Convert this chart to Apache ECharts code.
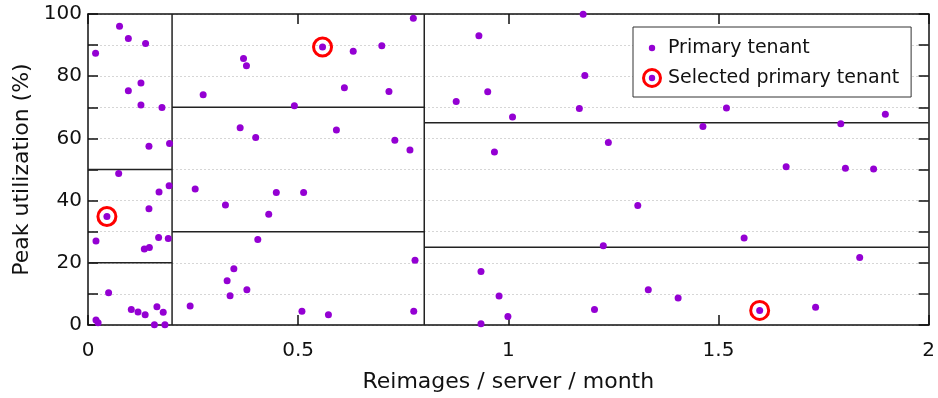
<!DOCTYPE html>
<html>
<head>
<meta charset="utf-8">
<script src="https://cdn.jsdelivr.net/npm/echarts@6/dist/echarts.min.js"></script>
<style>
html,body{margin:0;padding:0;background:#fff;}
#chart{width:938px;height:398px;}
</style>
</head>
<body>
<div id="chart"></div>
<script>
// ---- Data ----
const seriesNames = ['Primary tenant', 'Selected primary tenant'];
const xTicks = [0, 0.5, 1, 1.5, 2];
const yTicks = [0, 20, 40, 60, 80, 100];

// Primary tenants, x = reimages/server/month, y = peak utilization (%)
const primaryLowReimage = [
  [0.075,96.1],[0.096,92.1],[0.137,90.5],[0.018,87.4],[0.126,77.8],[0.096,75.3],[0.126,70.7],[0.176,69.9],
  [0.145,57.5],[0.194,58.4],[0.073,48.7],[0.169,42.8],[0.193,44.8],[0.045,34.9],[0.145,37.4],[0.019,27.0],
  [0.168,28.1],[0.191,27.8],[0.134,24.4],[0.146,24.9],[0.049,10.4],[0.103,5.0],[0.119,4.2],[0.136,3.3],
  [0.164,5.9],[0.179,4.1],[0.019,1.6],[0.024,0.7],[0.158,0.1],[0.183,0.1]
];
const primaryMidReimage = [
  [0.774,98.6],[0.558,89.4],[0.631,88.0],[0.699,89.8],[0.370,85.7],[0.377,83.4],[0.274,74.0],[0.610,76.3],
  [0.716,75.1],[0.491,70.5],[0.362,63.4],[0.399,60.3],[0.591,62.7],[0.730,59.4],[0.766,56.3],[0.255,43.7],
  [0.448,42.6],[0.513,42.6],[0.327,38.6],[0.430,35.6],[0.404,27.5],[0.778,20.8],[0.347,18.1],[0.331,14.2],
  [0.378,11.3],[0.338,9.4],[0.243,6.1],[0.509,4.4],[0.572,3.3],[0.775,4.4]
];
const primaryHighReimage = [
  [0.930,93.0],[1.178,99.9],[1.182,80.2],[0.951,75.0],[0.876,71.9],[1.169,69.6],[1.010,66.9],[1.238,58.7],
  [0.967,55.6],[1.519,69.8],[1.463,63.8],[1.791,64.7],[1.897,67.8],[1.661,50.9],[1.802,50.4],[1.869,50.2],
  [1.308,38.4],[1.226,25.5],[0.935,17.2],[1.333,11.3],[0.978,9.3],[1.205,5.0],[0.999,2.7],[0.935,0.4],
  [1.561,28.0],[1.836,21.7],[1.404,8.7],[1.598,4.7],[1.731,5.7]
];
const selectedTenants = [[0.045,34.9],[0.558,89.4],[1.598,4.7]];

// Partition boundaries: vertical splits on reimage rate, horizontal splits on utilization
const verticalSplits = [0.2, 0.8];
const horizontalSplits = [
  {from: 0,   to: 0.2, y: 20},
  {from: 0,   to: 0.2, y: 50},
  {from: 0.2, to: 0.8, y: 30},
  {from: 0.2, to: 0.8, y: 70},
  {from: 0.8, to: 2,   y: 25},
  {from: 0.8, to: 2,   y: 65}
];

// ---- Styling ----
const PURPLE = '#9400D3';
const RED = '#FF0000';
const FONT = 'DejaVu Sans';

function svgIcon(withRing) {
  let s = "<svg xmlns='http://www.w3.org/2000/svg' width='22' height='22' viewBox='0 0 22 22'>";
  if (withRing) s += "<circle cx='11' cy='11' r='8.5' fill='none' stroke='" + RED + "' stroke-width='3'/>";
  s += "<circle cx='11' cy='11' r='3.2' fill='" + PURPLE + "'/></svg>";
  return 'image://data:image/svg+xml;charset=utf-8,' + encodeURIComponent(s);
}

const primaryAll = primaryLowReimage.concat(primaryMidReimage, primaryHighReimage);

const lineSeries = [];
verticalSplits.forEach(function (x) {
  lineSeries.push({type: 'line', data: [[x, 0], [x, 100]], symbol: 'none', silent: true, z: 1,
    lineStyle: {color: '#222', width: 1.5}, animation: false});
});
horizontalSplits.forEach(function (h) {
  lineSeries.push({type: 'line', data: [[h.from, h.y], [h.to, h.y]], symbol: 'none', silent: true, z: 1,
    lineStyle: {color: '#222', width: 1.5}, animation: false});
});

function axisLine() { return {show: true, onZero: false, lineStyle: {color: '#111', width: 1.5}}; }
function axisTick() { return {show: true, inside: true, length: 10, lineStyle: {color: '#111', width: 1.5}}; }

const chart = echarts.init(document.getElementById('chart'));
chart.setOption({
  animation: false,
  backgroundColor: '#fff',
  textStyle: {fontFamily: FONT},
  grid: {left: 88, right: 9, top: 14, bottom: 73},
  legend: {
    orient: 'vertical',
    left: 633, top: 27,
    padding: [10, 12, 8, 8],
    itemWidth: 22, itemHeight: 22, itemGap: 8,
    borderColor: '#333', borderWidth: 1, backgroundColor: '#fff',
    textStyle: {fontFamily: FONT, fontSize: 19, color: '#111'},
    data: [
      {name: seriesNames[0], icon: svgIcon(false)},
      {name: seriesNames[1], icon: svgIcon(true)}
    ]
  },
  xAxis: [{
    type: 'value', min: xTicks[0], max: xTicks[xTicks.length - 1], interval: 0.5,
    name: 'Reimages / server / month', nameLocation: 'middle', nameGap: 46,
    nameTextStyle: {fontFamily: FONT, fontSize: 22, color: '#111'},
    axisLine: axisLine(), axisTick: axisTick(),
    axisLabel: {fontFamily: FONT, fontSize: 20, color: '#111', margin: 16,
      formatter: function (v) { return String(v); }},
    splitLine: {show: false}
  }, {
    type: 'value', position: 'top', min: xTicks[0], max: xTicks[xTicks.length - 1], interval: 0.5,
    axisLine: axisLine(), axisTick: axisTick(),
    axisLabel: {show: false}, splitLine: {show: false}
  }],
  yAxis: [{
    type: 'value', min: yTicks[0], max: yTicks[yTicks.length - 1], interval: 10,
    name: 'Peak utilization (%)', nameLocation: 'middle', nameGap: 46,
    nameTextStyle: {fontFamily: FONT, fontSize: 22, color: '#111'},
    axisLine: axisLine(), axisTick: axisTick(),
    axisLabel: {fontFamily: FONT, fontSize: 20, color: '#111', margin: 6,
      formatter: function (v) { return yTicks.indexOf(v) >= 0 ? String(v) : ''; }},
    splitLine: {show: true, lineStyle: {color: '#d6d6d6', width: 1, type: [2, 2]}}
  }, {
    type: 'value', position: 'right', min: yTicks[0], max: yTicks[yTicks.length - 1], interval: 10,
    axisLine: axisLine(), axisTick: axisTick(),
    axisLabel: {show: false}, splitLine: {show: false}
  }],
  series: lineSeries.concat([
    {
      name: seriesNames[0], type: 'scatter', data: primaryAll,
      symbol: 'circle', symbolSize: 7, z: 3,
      itemStyle: {color: PURPLE, opacity: 1}
    },
    {
      name: seriesNames[1], type: 'scatter', data: selectedTenants,
      symbol: 'circle', symbolSize: 18, z: 4,
      itemStyle: {color: 'rgba(0,0,0,0)', borderColor: RED, borderWidth: 3, opacity: 1}
    }
  ])
});
</script>
</body>
</html>
